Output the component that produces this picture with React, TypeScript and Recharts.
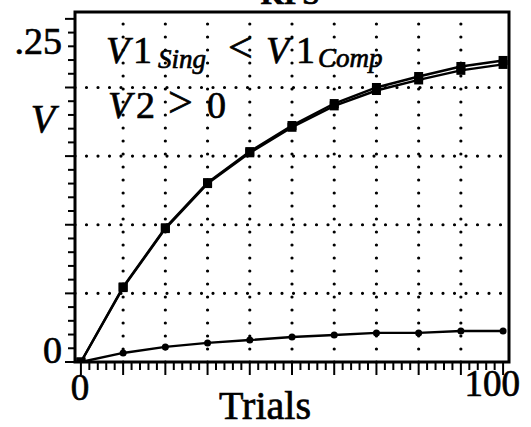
import React from 'react';
import { LineChart, Line, XAxis, YAxis, ReferenceLine, ReferenceArea } from 'recharts';

// values
const trials = [0, 10, 20, 30, 40, 50, 60, 70, 80, 90, 100];
const v1Comp = [0, 0.0547, 0.0978, 0.1307, 0.1533, 0.1723, 0.1883, 0.2, 0.208, 0.2153, 0.2197];
const v1Sing = [0, 0.0542, 0.0972, 0.13, 0.1524, 0.171, 0.1866, 0.1978, 0.2055, 0.2125, 0.2168];
const v2 = [0, 0.0066, 0.011, 0.0139, 0.016, 0.0182, 0.0197, 0.0212, 0.0212, 0.0226, 0.0226];

const xGrid = [10, 20, 30, 40, 50, 60, 70, 80, 90];
const yGrid = [0.05, 0.1, 0.15, 0.2];
const xTicks = Array.from({ length: 51 }, (_, i) => i * 2);
const yTicks = Array.from({ length: 26 }, (_, i) => i / 100);
const xLabels: Record<number, string> = { 0: '0', 100: '100' };
const yLabels: Record<number, string> = { 0: '0', 0.25: '.25' };

const data = trials.map((t, i) => ({ t, comp: v1Comp[i], sing: v1Sing[i], v2: v2[i] }));

const FONT = '"Liberation Serif", "Times New Roman", serif';
// thin outline on the glyphs, the scan prints heavier than a plain serif
const INK = { fill: '#000', stroke: '#000', strokeWidth: 0.7 };

const XTick = (props: any) => {
  const { x, y, payload } = props;
  const v = payload.value;
  const major = v % 10 === 0;
  const label = xLabels[v];
  return (
    <g>
      <line x1={x} x2={x} y1={y} y2={y + (major ? 13 : 8)} stroke="#000" strokeWidth={2} />
      {label && (
        <text
          x={v === 100 ? x + 17 : x - 1}
          y={y + (v === 100 ? 34 : 38)}
          textAnchor={v === 100 ? 'end' : 'middle'}
          fontFamily={FONT}
          fontSize={37}
          {...INK}
        >
          {label}
        </text>
      )}
    </g>
  );
};

const YTick = (props: any) => {
  const { x, y, payload } = props;
  const v = payload.value;
  const major = Math.round(v * 100) % 5 === 0;
  const label = yLabels[v];
  return (
    <g>
      <line x1={x - (major ? 10 : 7)} x2={x} y1={y} y2={y} stroke="#000" strokeWidth={2} />
      {label && (
        <text
          x={x - 13}
          y={y + (v === 0 ? 1 : 35)}
          textAnchor="end"
          fontFamily={FONT}
          fontSize={38}
          {...INK}
        >
          {label}
        </text>
      )}
    </g>
  );
};

const squareDot = (props: any) => {
  const { cx, cy, index } = props;
  return <rect key={`sq-${index}`} x={cx - 4.5} y={cy - 4.5} width={9} height={9} fill="#000" />;
};

const roundDot = (props: any) => {
  const { cx, cy, index } = props;
  return <circle key={`rd-${index}`} cx={cx} cy={cy} r={3.5} fill="#000" />;
};

export default function App() {
  return (
    <div style={{ position: 'absolute', left: 0, top: 0, width: 531, height: 427, background: '#fff' }}>
      <LineChart width={531} height={427} data={data} margin={{ top: 12, right: 22, bottom: 15, left: 15 }}>
        <XAxis
          dataKey="t"
          type="number"
          domain={[-1.4, 101.4]}
          ticks={xTicks}
          interval={0}
          height={50}
          axisLine={false}
          tickLine={false}
          tickSize={0}
          tickMargin={0}
          tick={<XTick />}
          allowDataOverflow
        />
        <YAxis
          type="number"
          domain={[0, 0.255]}
          ticks={yTicks}
          interval={0}
          width={60}
          axisLine={false}
          tickLine={false}
          tickSize={0}
          tickMargin={0}
          tick={<YTick />}
          allowDataOverflow
        />
        {xGrid.map((g) => (
          <ReferenceLine key={`gx-${g}`} x={g} stroke="#000" strokeWidth={3.2} strokeDasharray="0 13" strokeLinecap="round" />
        ))}
        {yGrid.map((g) => (
          <ReferenceLine key={`gy-${g}`} y={g} stroke="#000" strokeWidth={3.2} strokeDasharray="0 11.5" strokeLinecap="round" />
        ))}
        <ReferenceArea x1={-1.4} x2={101.4} y1={0} y2={0.255} fill="none" stroke="#000" strokeWidth={3} />
        <Line type="linear" dataKey="sing" stroke="#000" strokeWidth={2.4} dot={squareDot} isAnimationActive={false} />
        <Line type="linear" dataKey="comp" stroke="#000" strokeWidth={2.4} dot={squareDot} isAnimationActive={false} />
        <Line type="linear" dataKey="v2" stroke="#000" strokeWidth={2.4} dot={roundDot} isAnimationActive={false} />
      </LineChart>
      <svg
        width={531}
        height={427}
        style={{ position: 'absolute', left: 0, top: 0, pointerEvents: 'none' }}
        fontFamily={FONT}
        {...INK}
      >
        <text x={290} y={4} textAnchor="middle" fontSize={30} fontWeight="bold">KPS</text>
        <text x={43} y={132} textAnchor="middle" fontSize={40} fontStyle="italic">V</text>
        <text x={265} y={419} textAnchor="middle" fontSize={40}>Trials</text>

        <text x={106} y={63} fontSize={38} fontStyle="italic">V</text>
        <text x={133} y={63} fontSize={38}>1</text>
        <text x={158} y={68} fontSize={27} fontStyle="italic">Sing</text>
        <text x={228} y={62} fontSize={44}>&lt;</text>
        <text x={266} y={63} fontSize={38} fontStyle="italic">V</text>
        <text x={296} y={63} fontSize={38}>1</text>
        <text x={318} y={67} fontSize={27} fontStyle="italic">Comp</text>

        <text x={108} y={118} fontSize={38} fontStyle="italic">V</text>
        <text x={136} y={118} fontSize={38}>2</text>
        <text x={168} y={117} fontSize={44}>&gt;</text>
        <text x={207} y={118} fontSize={38}>0</text>
      </svg>
    </div>
  );
}
